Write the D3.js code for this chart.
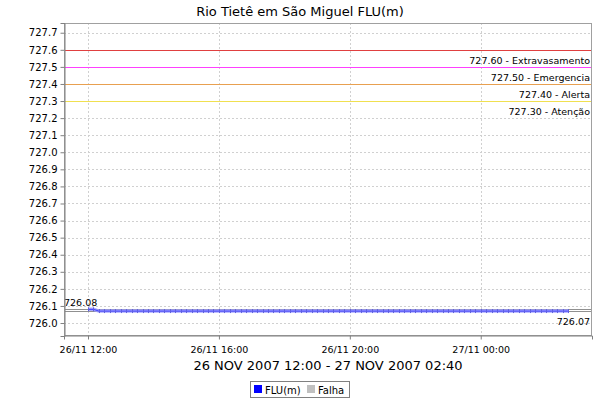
<!DOCTYPE html>
<html><head><meta charset="utf-8">
<script src="https://cdn.jsdelivr.net/npm/d3@7/dist/d3.min.js"></script>
<style>body{margin:0;background:#fff}svg{display:block}text{font-family:"DejaVu Sans",sans-serif}</style>
</head><body>
<svg id="c" width="600" height="400"></svg>
<script>
const title = "Rio Tietê em São Miguel FLU(m)";
const axisLabel = "26 NOV 2007 12:00 - 27 NOV 2007 02:40";
const startTime = "2007-11-26T12:00:00";
const stepMinutes = 10;
const values = [
 726.08,726.08,726.07,726.07,726.07,726.07,726.07,726.07,726.07,726.07,
 726.07,726.07,726.07,726.07,726.07,726.07,726.07,726.07,726.07,726.07,
 726.07,726.07,726.07,726.07,726.07,726.07,726.07,726.07,726.07,726.07,
 726.07,726.07,726.07,726.07,726.07,726.07,726.07,726.07,726.07,726.07,
 726.07,726.07,726.07,726.07,726.07,726.07,726.07,726.07,726.07,726.07,
 726.07,726.07,726.07,726.07,726.07,726.07,726.07,726.07,726.07,726.07,
 726.07,726.07,726.07,726.07,726.07,726.07,726.07,726.07,726.07,726.07,
 726.07,726.07,726.07,726.07,726.07,726.07,726.07,726.07,726.07,726.07,
 726.07,726.07,726.07,726.07,726.07,726.07,726.07,726.07,726.07
];
const thresholdValues = [727.6, 727.5, 727.4, 727.3];
const thresholdNames = ["Extravasamento", "Emergencia", "Alerta", "Atenção"];
const thresholdColors = ["#e04040", "#ff40ff", "#e8a050", "#f0e050"];
const yTicks = [726.0,726.1,726.2,726.3,726.4,726.5,726.6,726.7,726.8,726.9,727.0,727.1,727.2,727.3,727.4,727.5,727.6,727.7];
const xTicks = ["2007-11-26T12:00:00","2007-11-26T16:00:00","2007-11-26T20:00:00","2007-11-27T00:00:00"];
const legendNames = ["FLU(m)", "Falha"];
const legendColors = ["#0000ff", "#c0c0c0"];

const svg = d3.select("#c");
const L = 64, R = 592, T = 23, B = 336;
const t0 = new Date(startTime);
const pts = values.map((v, i) => ({t: new Date(t0.getTime() + i * stepMinutes * 60000), v}));
const tMin = pts[0].t, tMax = pts[pts.length - 1].t;
const span = tMax - tMin;
const x = d3.scaleTime().domain([new Date(tMin - span * 0.05), new Date(+tMax + span * 0.05)]).range([L, R]);
const y = d3.scaleLinear().domain([725.924, 727.757]).range([B, T]);

svg.append("text").attr("x", 300).attr("y", 16).attr("text-anchor", "middle")
  .attr("font-size", 13).attr("fill", "#000").text(title);

svg.append("rect").attr("x", L).attr("y", T).attr("width", R - L).attr("height", B - T).attr("fill", "#fff");

// grid
const g = svg.append("g");
g.selectAll(".hg").data(yTicks).join("line")
  .attr("x1", L).attr("x2", R).attr("y1", d => Math.round(y(d)) + 0.5).attr("y2", d => Math.round(y(d)) + 0.5)
  .attr("stroke", "#d0d0d0").attr("stroke-dasharray", "2,2");
g.selectAll(".vg").data(xTicks.map(s => new Date(s))).join("line")
  .attr("y1", T).attr("y2", B).attr("x1", d => Math.round(x(d)) + 0.5).attr("x2", d => Math.round(x(d)) + 0.5)
  .attr("stroke", "#d0d0d0").attr("stroke-dasharray", "2,2");

// threshold markers
thresholdValues.forEach((v, i) => {
  const yy = Math.round(y(v)) + 0.5;
  svg.append("line").attr("x1", L).attr("x2", R).attr("y1", yy).attr("y2", yy).attr("stroke", thresholdColors[i]);
  svg.append("text").attr("x", R - 2).attr("y", yy + 13.5).attr("text-anchor", "end")
    .attr("font-size", 9.5).attr("fill", "#000").text(v.toFixed(2) + " - " + thresholdNames[i]);
});

// max/min markers
const vMax = d3.max(values), vMin = d3.min(values);
[vMax, vMin].forEach(v => {
  const yy = Math.round(y(v)) + 0.5;
  svg.append("line").attr("x1", L).attr("x2", R).attr("y1", yy).attr("y2", yy).attr("stroke", "#909090");
});
svg.append("text").attr("x", L).attr("y", Math.round(y(vMax)) - 3).attr("font-size", 9.5).attr("fill", "#000").text(vMax.toFixed(2));
svg.append("text").attr("x", R - 2).attr("y", Math.round(y(vMin)) + 14).attr("text-anchor", "end").attr("font-size", 9.5).attr("fill", "#000").text(vMin.toFixed(2));

// series
const line = d3.line().x(d => x(d.t)).y(d => y(d.v));
svg.append("path").datum(pts).attr("d", line).attr("fill", "none").attr("stroke", "#9a9aff").attr("stroke-width", 3.5).attr("opacity", 0.85);
svg.append("path").datum(pts).attr("d", line).attr("fill", "none").attr("stroke", "#4040ff").attr("stroke-width", 1);
svg.selectAll(".mk").data(pts).join("line")
  .attr("x1", d => Math.round(x(d.t)) + 0.5).attr("x2", d => Math.round(x(d.t)) + 0.5)
  .attr("y1", d => y(d.v) - 2).attr("y2", d => y(d.v) + 2)
  .attr("stroke", "#6060e0").attr("stroke-width", 1);

// border
svg.append("rect").attr("x", L + 0.5).attr("y", T + 0.5).attr("width", R - L - 1).attr("height", B - T - 1)
  .attr("fill", "none").attr("stroke", "#a0a0a0");

// axes
const ya = svg.append("g").attr("transform", `translate(${L + 0.5},0)`)
  .call(d3.axisLeft(y).tickValues(yTicks).tickFormat(d3.format(".1f")).tickSize(4).tickPadding(3));
ya.select(".domain").attr("stroke", "#808080");
ya.selectAll(".tick line").attr("stroke", "#808080");
ya.selectAll("text").attr("font-size", 10).attr("font-family", "DejaVu Sans").attr("fill", "#000");

const xa = svg.append("g").attr("transform", `translate(0,${B - 0.5})`)
  .call(d3.axisBottom(x).tickValues(xTicks.map(s => new Date(s))).tickFormat(d3.timeFormat("%d/%m %H:%M")).tickSize(4).tickPadding(7));
xa.select(".domain").attr("stroke", "#808080");
xa.selectAll(".tick line").attr("stroke", "#808080");
xa.selectAll("text").attr("font-size", 9.5).attr("font-family", "DejaVu Sans").attr("fill", "#000");

svg.append("text").attr("x", (L + R) / 2).attr("y", 370).attr("text-anchor", "middle")
  .attr("font-size", 13).attr("fill", "#000").text(axisLabel);

// legend
const lg = svg.append("g");
lg.append("rect").attr("x", 250.5).attr("y", 381.5).attr("width", 99).attr("height", 16).attr("fill", "#fff").attr("stroke", "#808080");
const lx = [254, 307];
legendNames.forEach((n, i) => {
  lg.append("rect").attr("x", lx[i]).attr("y", 385).attr("width", 8).attr("height", 8).attr("fill", legendColors[i]);
  lg.append("text").attr("x", lx[i] + 11).attr("y", 393.5).attr("font-size", 10).attr("fill", "#000").text(n);
});
</script>
</body></html>
